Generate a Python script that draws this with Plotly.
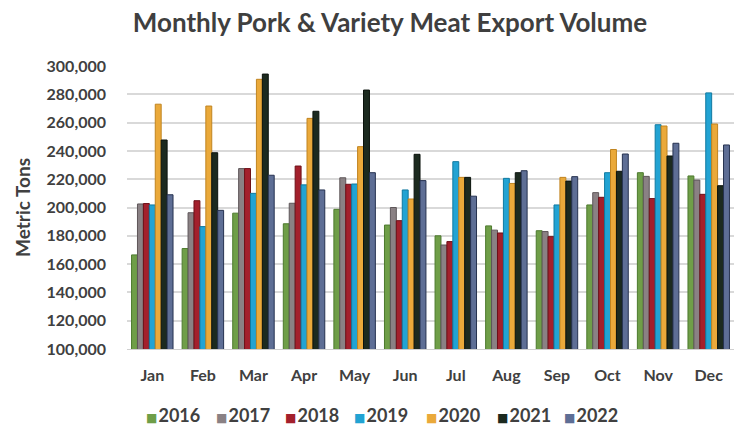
import plotly.graph_objects as go

months = ["Jan", "Feb", "Mar", "Apr", "May", "Jun", "Jul", "Aug", "Sep", "Oct", "Nov", "Dec"]
years = ["2016", "2017", "2018", "2019", "2020", "2021", "2022"]

v2016 = [166500, 171000, 196000, 188500, 198700, 187600, 180000, 187000, 183600, 201800, 224600, 222300]
v2017 = [202500, 196300, 227500, 203000, 221000, 200000, 173500, 184000, 183000, 210500, 222000, 219400]
v2018 = [202800, 204800, 227500, 229300, 216400, 190700, 175900, 182000, 179400, 207200, 206300, 209300]
v2019 = [201800, 186500, 210000, 216000, 216600, 212400, 232400, 220600, 201800, 224600, 258500, 281000]
v2020 = [273000, 271700, 290600, 263000, 243000, 206000, 221300, 217000, 221300, 241000, 257600, 259000]
v2021 = [247700, 238700, 294300, 268000, 283000, 237600, 221300, 224600, 218700, 225600, 236400, 215400]
v2022 = [209000, 198000, 222800, 212400, 224600, 219000, 208000, 226000, 221800, 237800, 245400, 244200]

series = [v2016, v2017, v2018, v2019, v2020, v2021, v2022]
fills = ["#6f9e48", "#8a8184", "#a3202c", "#22a3d3", "#eaa93a", "#1c2a1f", "#5e6e95"]
edges = ["#4d7a2e", "#5e5659", "#6e1018", "#117aa0", "#c08420", "#0b120c", "#263250"]

FONT = "Lato"
L, R = 127, 0
PW = 734 - L - R

fig = go.Figure()
for name, vals, fc, ec in zip(years, series, fills, edges):
    fig.add_trace(go.Bar(
        x=months, y=vals, name=name, showlegend=False,
        marker=dict(color=fc, line=dict(color=ec, width=1)),
    ))

# legend drawn as text entries (small square + year), like the original
legend_left_px = [144, 214, 283, 352, 424, 495, 562]
for name, fc, ec, px in zip(years, fills, edges, legend_left_px):
    fig.add_annotation(
        xref="paper", yref="paper", x=(px - L) / PW, y=-(415 - 349) / 283,
        xanchor="left", yanchor="middle", showarrow=False,
        text=f"<span style='color:{fc};font-size:12px;font-family:DejaVu Sans'>■</span>\u200a{name}",
        font=dict(family=FONT, size=18, color="#404040", weight="bold"),
    )

fig.update_layout(
    width=734, height=427,
    margin=dict(l=L, r=R, t=66, b=78),
    paper_bgcolor="white", plot_bgcolor="white",
    barmode="group", bargap=0.18, bargroupgap=0.0,
    font=dict(family=FONT, color="#404040"),
    title=dict(
        text="Monthly Pork & Variety Meat Export Volume",
        x=390 / 734, xanchor="center", y=1 - 23 / 427, yanchor="middle",
        font=dict(size=26, color="#3f3f3f", family=FONT, weight="bold"),
    ),
    xaxis=dict(
        showgrid=False, showline=True, linecolor="#d0d0d0", linewidth=1,
        ticks="", tickfont=dict(size=16, color="#404040", weight="bold"),
        ticklabelstandoff=12,
    ),
    yaxis=dict(
        range=[100000, 300000], dtick=20000, tickformat=",d",
        showgrid=True, gridcolor="#d9d9d9", gridwidth=1.5,
        zeroline=False, showline=False, ticks="",
        tickfont=dict(size=16, color="#404040", weight="bold"),
        ticklabelstandoff=20,
        title=dict(text="Metric Tons", font=dict(size=19, color="#404040", weight="bold"), standoff=10),
    ),
)

fig.write_html("out.html")
